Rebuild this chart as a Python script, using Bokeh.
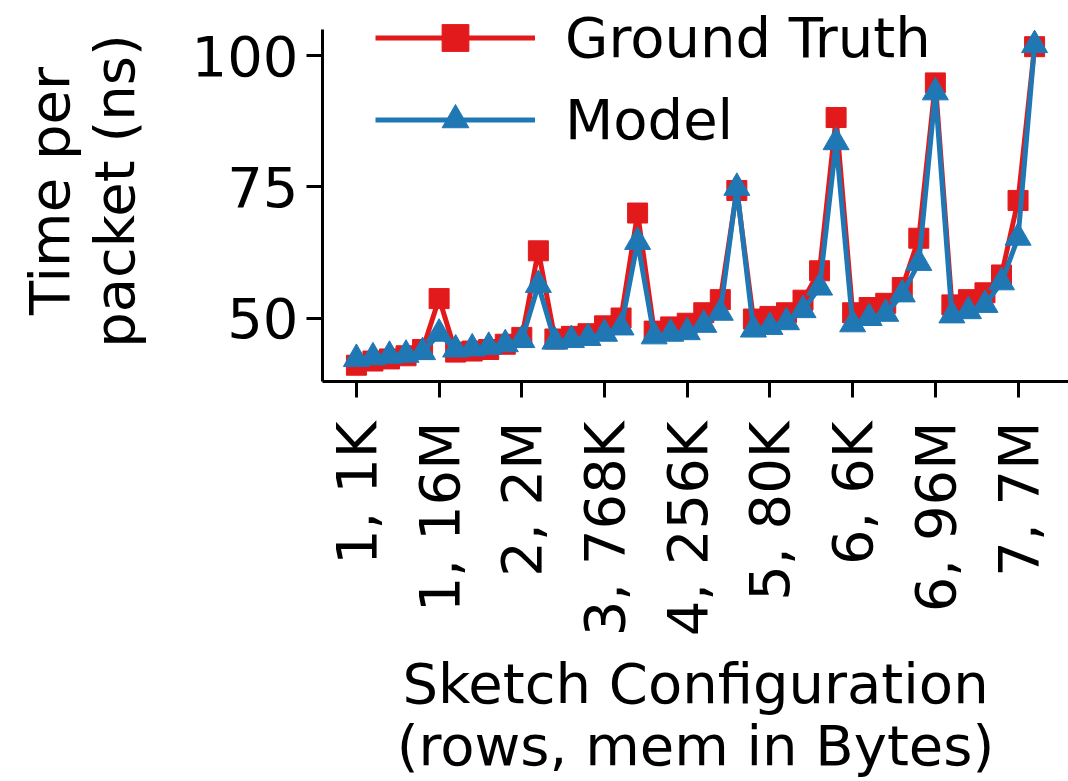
import math
from bokeh.plotting import figure
from bokeh.models import FixedTicker, Legend, Range1d
from bokeh.embed import file_html
from bokeh.resources import INLINE

# ---- data ----
idx = list(range(42))
ground_truth = [41.0, 41.8, 42.2, 42.8, 44.0, 53.7,
                43.5, 43.7, 44.0, 45.0, 46.3, 62.8,
                46.0, 46.5, 47.0, 48.5, 50.0, 70.0,
                47.5, 48.3, 49.0, 51.0, 53.5, 74.3,
                49.8, 50.3, 51.0, 53.4, 59.0, 88.2,
                51.0, 52.0, 52.8, 55.8, 65.2, 94.8,
                52.5, 53.5, 54.8, 58.2, 72.4, 101.7]
model = [42.2, 42.5, 42.8, 43.0, 43.5, 47.0,
         44.0, 44.2, 44.5, 45.0, 45.8, 56.3,
         45.5, 45.8, 46.2, 47.0, 48.2, 64.5,
         46.5, 47.0, 47.3, 48.7, 51.0, 74.8,
         47.8, 48.3, 49.2, 51.5, 55.8, 83.5,
         48.8, 50.0, 50.8, 54.5, 60.5, 93.0,
         50.5, 51.3, 52.5, 56.8, 65.3, 102.0]
tick_positions = [0, 5, 10, 15, 20, 25, 30, 35, 40]
tick_labels = ["1, 1K", "1, 16M", "2, 2M", "3, 768K", "4, 256K",
               "5, 80K", "6, 6K", "6, 96M", "7, 7M"]
y_ticks = [50, 75, 100]

RED = "#e31a1c"
BLUE = "#1f78b4"
FONT = "DejaVu Sans"
FS = "56px"

Y_MIN, Y_MAX = 37.9, 105.0

p = figure(width=1068, height=781, output_backend="svg", toolbar_location=None,
           x_range=Range1d(-2.05, 43.05), y_range=Range1d(Y_MIN, 110.5),
           min_border_left=322, min_border_right=0, min_border_top=0,
           min_border_bottom=399)

r1 = p.line(idx, ground_truth, color=RED, line_width=5)
s1 = p.scatter(idx, ground_truth, marker="square", size=20, color=RED)
r2 = p.line(idx, model, color=BLUE, line_width=5)
s2 = p.scatter(idx, model, marker="triangle", size=26, color=BLUE)

legend = Legend(items=[("Ground Truth", [r1, s1]), ("Model", [r2, s2])],
                location=(53, 228), padding=0, margin=0, spacing=15,
                glyph_width=160, glyph_height=67, label_height=67,
                label_standoff=30, label_text_font=FONT,
                label_text_font_size=FS, label_text_color="black",
                border_line_alpha=0, background_fill_alpha=0)
p.add_layout(legend, "center")

p.xgrid.visible = False
p.ygrid.visible = False
p.outline_line_color = None

for ax in (p.xaxis[0], p.yaxis[0]):
    ax.axis_line_width = 3
    ax.major_tick_line_width = 3
    ax.major_tick_out = 16
    ax.major_tick_in = 0
    ax.minor_tick_line_color = None
    ax.major_label_text_font = FONT
    ax.major_label_text_font_size = FS
    ax.major_label_text_color = "black"
    ax.axis_label_text_font = FONT
    ax.axis_label_text_font_size = FS
    ax.axis_label_text_font_style = "normal"
    ax.axis_label_text_color = "black"

p.xaxis.ticker = FixedTicker(ticks=tick_positions)
p.xaxis.major_label_overrides = {t: l for t, l in zip(tick_positions, tick_labels)}
p.xaxis.major_label_orientation = math.pi / 2
p.xaxis.major_label_standoff = 24
p.xaxis.axis_label = "Sketch Configuration\n(rows, mem in Bytes)"
p.xaxis.axis_label_standoff = 12
p.xaxis.axis_label_text_line_height = 0.95

p.yaxis.ticker = FixedTicker(ticks=y_ticks)
p.yaxis.bounds = (Y_MIN, Y_MAX)
p.yaxis.major_label_standoff = 8
p.yaxis.axis_label = "Time per\npacket (ns)"
p.yaxis.axis_label_standoff = 42
p.yaxis.axis_label_text_line_height = 1.0

open("out.html", "w").write(file_html(p, INLINE))
